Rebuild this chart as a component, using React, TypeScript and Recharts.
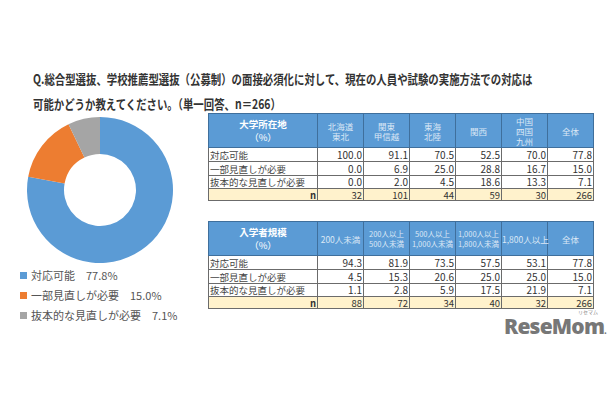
import React from "react";
import { PieChart, Pie, Cell, Legend } from "recharts";

const pieLabels = ["対応可能", "一部見直しが必要", "抜本的な見直しが必要"];
const pieValues = [77.8, 15.0, 7.1];
const pieColors = ["#5B9BD5", "#ED7D31", "#A5A5A5"];

const regionCols = ["北海道\n東北", "関東\n甲信越", "東海\n北陸", "関西", "中国\n四国\n九州", "全体"];
const regionPossible = [100.0, 91.1, 70.5, 52.5, 70.0, 77.8];
const regionPartial = [0.0, 6.9, 25.0, 28.8, 16.7, 15.0];
const regionFull = [0.0, 2.0, 4.5, 18.6, 13.3, 7.1];
const regionN = [32, 101, 44, 59, 30, 266];

const sizeCols = ["200人未満", "200人以上\n500人未満", "500人以上\n1,000人未満", "1,000人以上\n1,800人未満", "1,800人以上", "全体"];
const sizePossible = [94.3, 81.9, 73.5, 57.5, 53.1, 77.8];
const sizePartial = [4.5, 15.3, 20.6, 25.0, 25.0, 15.0];
const sizeFull = [1.1, 2.8, 5.9, 17.5, 21.9, 7.1];
const sizeN = [88, 72, 34, 40, 32, 266];

const pieData = pieLabels.map((name, i) => ({ name, value: pieValues[i] }));

const FONT = "'Noto Sans CJK JP', 'Noto Sans', sans-serif";
const BORDER = "1px solid #6b6b6b";

function DataTable(props: {
  title: string;
  cols: string[];
  rows: number[][];
  n: number[];
  top: number;
}) {
  const { title, cols, rows, n, top } = props;
  const cell: React.CSSProperties = {
    border: BORDER,
    padding: "0 1px",
    textAlign: "right",
    fontSize: 10,
    lineHeight: "12px",
    color: "#333",
    whiteSpace: "nowrap",
  };
  const labelCell: React.CSSProperties = {
    ...cell,
    textAlign: "left",
    fontSize: 9.5,
    color: "#444",
  };
  const nCell: React.CSSProperties = {
    ...cell,
    fontSize: 9.5,
    lineHeight: "10px",
  };
  return (
    <table
      style={{
        position: "absolute",
        left: 208,
        top,
        width: 385,
        borderCollapse: "collapse",
        tableLayout: "fixed",
        fontFamily: FONT,
      }}
    >
      <colgroup>
        <col style={{ width: 109 }} />
        {cols.map((_, i) => (
          <col key={i} style={{ width: 46 }} />
        ))}
      </colgroup>
      <tbody>
        <tr style={{ height: 34, background: "#5B9BD5" }}>
          <td
            style={{
              border: "1px solid #3f6f9c",
              textAlign: "center",
              color: "#fff",
              fontWeight: 700,
              fontSize: 9.5,
              lineHeight: "13px",
              padding: 0,
            }}
          >
            {title}
            <br />
            <span style={{ fontWeight: 400 }}>（%）</span>
          </td>
          {cols.map((c, i) => (
            <td
              key={i}
              style={{
                border: "1px solid #3f6f9c",
                textAlign: "center",
                color: "#dbe8f6",
                fontSize: c.length > 8 ? 7.5 : 8.5,
                lineHeight: "10px",
                padding: 0,
                whiteSpace: "pre",
              }}
            >
              {c}
            </td>
          ))}
        </tr>
        {rows.map((r, ri) => (
          <tr key={ri} style={{ height: ri === 2 ? 13 : 14, background: "#fff" }}>
            <td style={labelCell}>{pieLabels[ri]}</td>
            {r.map((v, i) => (
              <td key={i} style={cell}>
                {v.toFixed(1)}
              </td>
            ))}
          </tr>
        ))}
        <tr style={{ height: 12, background: "#FFF2CC" }}>
          <td style={{ ...nCell, fontWeight: 700 }}>n</td>
          {n.map((v, i) => (
            <td key={i} style={nCell}>
              {v}
            </td>
          ))}
        </tr>
      </tbody>
    </table>
  );
}

function PieLegend(props: any) {
  const payload: any[] = props.payload || [];
  return (
    <div style={{ fontSize: 11, lineHeight: "20px", color: "#555", whiteSpace: "nowrap" }}>
      {payload.map((p: any, i: number) => (
        <div key={i} style={{ display: "flex", alignItems: "center" }}>
          <span
            style={{
              display: "inline-block",
              width: 7,
              height: 7,
              background: p.color,
              marginRight: 4,
            }}
          />
          <span>
            {p.value}
            {"\u3000"}
            {Number(p.payload?.value).toFixed(1)}%
          </span>
        </div>
      ))}
    </div>
  );
}

export default function App() {
  return (
    <div
      style={{
        position: "absolute",
        left: 0,
        top: 0,
        width: 610,
        height: 400,
        background: "#fff",
        fontFamily: FONT,
        overflow: "hidden",
      }}
    >
      <div
        style={{
          position: "absolute",
          left: 33,
          top: 66,
          fontSize: 13,
          fontWeight: 700,
          color: "#333",
          lineHeight: "25px",
          whiteSpace: "nowrap",
          transform: "scaleX(0.8)",
          transformOrigin: "left top",
        }}
      >
        Q.総合型選抜、学校推薦型選抜（公募制）の面接必須化に対して、現在の人員や試験の実施方法での対応は
        <br />
        可能かどうか教えてください。（単一回答、n＝266）
      </div>

      <div style={{ position: "absolute", left: 0, top: 110 }}>
        <PieChart width={205} height={220} margin={{ top: 0, right: 0, bottom: 0, left: 0 }}>
          <Pie
            data={pieData}
            dataKey="value"
            nameKey="name"
            cx={100}
            cy={80}
            innerRadius={36}
            outerRadius={73}
            startAngle={90}
            endAngle={-270}
            stroke="none"
            isAnimationActive={false}
          >
            {pieData.map((d, i) => (
              <Cell key={d.name} fill={pieColors[i]} />
            ))}
          </Pie>
          <Legend
            layout="horizontal"
            align="left"
            verticalAlign="bottom"
            itemSorter={null as any}
            content={<PieLegend />}
            wrapperStyle={{ left: 20, top: 155, bottom: "auto", width: 180 }}
          />
        </PieChart>
      </div>

      <DataTable
        title="大学所在地"
        cols={regionCols}
        rows={[regionPossible, regionPartial, regionFull]}
        n={regionN}
        top={113}
      />
      <DataTable
        title="入学者規模"
        cols={sizeCols}
        rows={[sizePossible, sizePartial, sizeFull]}
        n={sizeN}
        top={221}
      />

      <div
        style={{
          position: "absolute",
          left: 504,
          top: 317,
          fontFamily: "'Open Sans', 'DejaVu Sans', sans-serif",
          fontWeight: 800,
          fontSize: 21,
          letterSpacing: -0.8,
          color: "#777",
          lineHeight: "18px",
        }}
      >
        ReseMom
        <span style={{ fontSize: 8 }}>.</span>
      </div>
      <div
        style={{
          position: "absolute",
          left: 578,
          top: 309,
          fontSize: 5,
          lineHeight: "6px",
          color: "#888",
        }}
      >
        リセマム
      </div>
    </div>
  );
}
